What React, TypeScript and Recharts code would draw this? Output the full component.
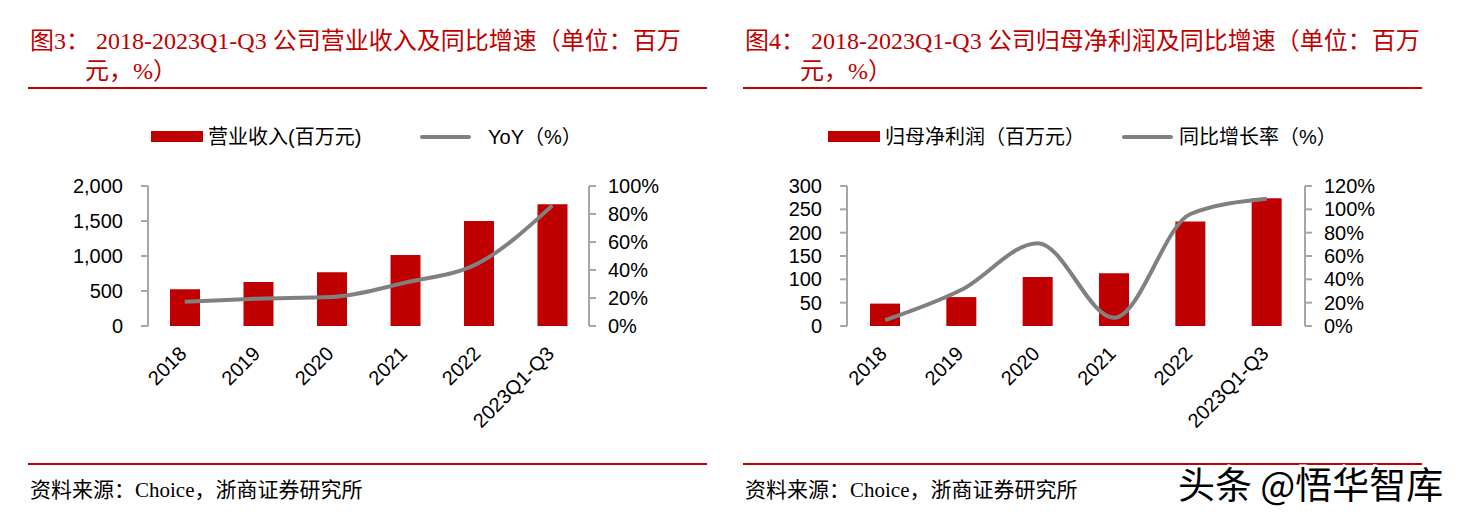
import React from "react";
import { ComposedChart, Bar, Line, XAxis, YAxis } from "recharts";

const categories = ["2018", "2019", "2020", "2021", "2022", "2023Q1-Q3"];
const revenue = [524, 629, 767, 1014, 1500, 1740];
const revenueYoY = [17.4, 19.5, 20.7, 31, 45, 86];
const profit = [48, 62, 105, 113, 224, 274];
const profitYoY = [5, 31, 71, 7, 96, 109];

const revenueTicks = [0, 500, 1000, 1500, 2000];
const revenuePctTicks = [0, 20, 40, 60, 80, 100];
const profitTicks = [0, 50, 100, 150, 200, 250, 300];
const profitPctTicks = [0, 20, 40, 60, 80, 100, 120];

const RED = "#c00000";
const GRAY = "#808080";
const AXIS = "#a6a6a6";
const SANS = "'Liberation Sans', Arial, 'Noto Sans CJK SC', sans-serif";
const SERIF = "'Liberation Serif', 'Times New Roman', 'Noto Sans CJK SC', serif";

const edgeTicks = categories.map((_, i) => i).concat(categories.length);

function CatTick(props: any) {
  const { x, y, payload } = props;
  return (
    <text
      transform={`translate(${x + 3},${y + 29}) rotate(-45)`}
      textAnchor="end"
      fontSize={20}
      fontFamily={SANS}
      fill="#000"
    >
      {payload.value}
    </text>
  );
}

type PanelProps = {
  left: number;
  title1: string;
  title2: string;
  barName: string;
  lineName: string;
  bars: number[];
  pct: number[];
  ticks: number[];
  pctTicks: number[];
  leftAxisWidth: number;
  plotWidth: number;
  barLegendX: number;
  lineLegendX: number;
  lineTextX: number;
};

function Panel(p: PanelProps) {
  const data = categories.map((c, i) => ({ name: c, bar: p.bars[i], pct: p.pct[i] }));
  const rightW = 90;
  const top = 16;
  const plotH = 140;
  const catH = 120;
  const titleStyle: React.CSSProperties = {
    position: "absolute",
    fontFamily: SERIF,
    fontSize: 24,
    lineHeight: "30px",
    color: RED,
    whiteSpace: "pre",
  };
  const legendText: React.CSSProperties = {
    position: "absolute",
    top: 124,
    fontFamily: SANS,
    fontSize: 20,
    lineHeight: "26px",
    color: "#000",
    whiteSpace: "pre",
  };
  return (
    <div style={{ position: "absolute", left: p.left, top: 0, width: 720, height: 515 }}>
      <div style={{ ...titleStyle, left: 2, top: 26 }}>{p.title1}</div>
      <div style={{ ...titleStyle, left: 57, top: 56 }}>{p.title2}</div>
      <div style={{ position: "absolute", left: 0, top: 87, width: 679, height: 2, background: RED }} />

      {/* legend */}
      <div
        style={{ position: "absolute", left: p.barLegendX, top: 131, width: 52, height: 11, background: RED }}
      />
      <div style={{ ...legendText, left: p.barLegendX + 57 }}>{p.barName}</div>
      <div
        style={{
          position: "absolute",
          left: p.lineLegendX,
          top: 135,
          width: 51,
          height: 4,
          background: GRAY,
          borderRadius: 2,
        }}
      />
      <div style={{ ...legendText, left: p.lineTextX }}>{p.lineName}</div>

      <div style={{ position: "absolute", left: 12, top: 170 }}>
        <ComposedChart
          width={p.leftAxisWidth + p.plotWidth + rightW}
          height={top + plotH + catH}
          data={data}
          margin={{ top, right: 0, bottom: 0, left: 0 }}
          barCategoryGap={0}
        >
          <XAxis
            xAxisId={0}
            type="number"
            domain={[0, categories.length]}
            ticks={edgeTicks}
            height={0}
            tickSize={7}
            tickFormatter={() => ""}
            stroke={AXIS}
            strokeWidth={2}
            tickLine={{ stroke: AXIS, strokeWidth: 2 }}
          />
          <XAxis
            xAxisId="cat"
            dataKey="name"
            height={catH}
            axisLine={false}
            tickLine={false}
            tickSize={0}
            tickMargin={0}
            interval={0}
            tick={<CatTick />}
          />
          <YAxis
            yAxisId="l"
            width={p.leftAxisWidth}
            domain={[p.ticks[0], p.ticks[p.ticks.length - 1]]}
            ticks={p.ticks}
            interval={0}
            tickSize={7}
            tickMargin={18}
            tickFormatter={(v: number) => v.toLocaleString("en-US")}
            stroke={AXIS}
            strokeWidth={2}
            tick={{ fill: "#000", fontSize: 20, fontFamily: SANS }}
          />
          <YAxis
            yAxisId="r"
            orientation="right"
            width={rightW}
            domain={[p.pctTicks[0], p.pctTicks[p.pctTicks.length - 1]]}
            ticks={p.pctTicks}
            interval={0}
            tickSize={7}
            tickMargin={12}
            tickFormatter={(v: number) => `${v}%`}
            stroke={AXIS}
            strokeWidth={2}
            tick={{ fill: "#000", fontSize: 20, fontFamily: SANS, textAnchor: "start" }}
          />
          <Bar
            xAxisId="cat"
            yAxisId="l"
            dataKey="bar"
            fill={RED}
            barSize={30}
            isAnimationActive={false}
          />
          <Line
            xAxisId="cat"
            yAxisId="r"
            dataKey="pct"
            type="monotone"
            stroke={GRAY}
            strokeWidth={4}
            dot={false}
            activeDot={false}
            isAnimationActive={false}
          />
        </ComposedChart>
      </div>

      <div style={{ position: "absolute", left: 0, top: 463, width: 679, height: 2, background: RED }} />
      <div
        style={{
          position: "absolute",
          left: 2,
          top: 476,
          fontFamily: SERIF,
          fontSize: 21,
          lineHeight: "28px",
          color: "#000",
          whiteSpace: "pre",
        }}
      >
        资料来源：Choice，浙商证券研究所
      </div>
    </div>
  );
}

export default function App() {
  return (
    <div
      style={{
        position: "absolute",
        left: 0,
        top: 0,
        width: 1461,
        height: 515,
        background: "#fff",
        overflow: "hidden",
      }}
    >
      <Panel
        left={28}
        title1="图3： 2018-2023Q1-Q3 公司营业收入及同比增速（单位：百万"
        title2="元，%）"
        barName="营业收入(百万元)"
        lineName="YoY（%）"
        bars={revenue}
        pct={revenueYoY}
        ticks={revenueTicks}
        pctTicks={revenuePctTicks}
        leftAxisWidth={108}
        plotWidth={441}
        barLegendX={123}
        lineLegendX={392}
        lineTextX={460}
      />
      <Panel
        left={743}
        title1="图4： 2018-2023Q1-Q3 公司归母净利润及同比增速（单位：百万"
        title2="元，%）"
        barName="归母净利润（百万元）"
        lineName="同比增长率（%）"
        bars={profit}
        pct={profitYoY}
        ticks={profitTicks}
        pctTicks={profitPctTicks}
        leftAxisWidth={92}
        plotWidth={458}
        barLegendX={85}
        lineLegendX={379}
        lineTextX={436}
      />
      <svg width={290} height={60} style={{ position: "absolute", left: 1170, top: 455 }}>
        <text
          x={8}
          y={44}
          fontSize={37}
          fontFamily="'Noto Sans CJK SC', sans-serif"
          fill="#000"
          stroke="#fff"
          strokeWidth={5}
          paintOrder="stroke"
        >
          头条 @悟华智库
        </text>
      </svg>
    </div>
  );
}
